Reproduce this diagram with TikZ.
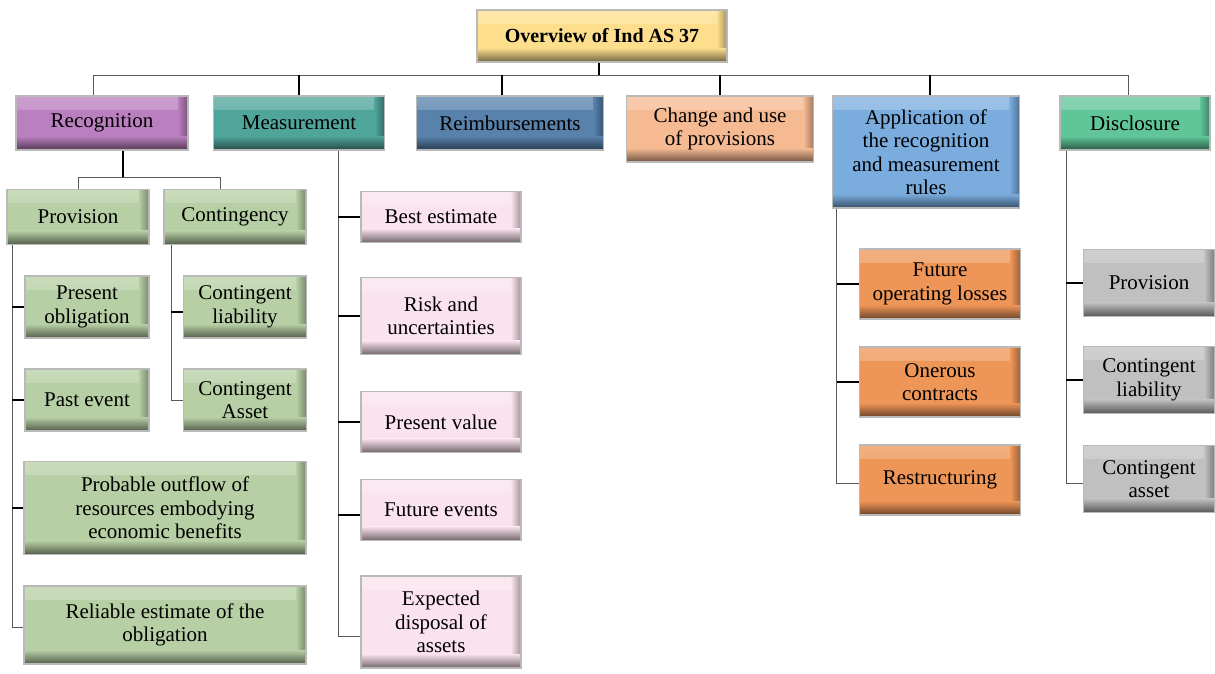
\documentclass[tikz,border=0pt]{standalone}
\usepackage{fontspec}
\setmainfont{Liberation Serif}
\usepackage{tikz}

\definecolor{gold}{RGB}{252,222,140}
\definecolor{plum}{RGB}{186,127,190}
\definecolor{teal}{RGB}{80,165,155}
\definecolor{steel}{RGB}{88,130,172}
\definecolor{peach}{RGB}{246,186,146}
\definecolor{sky}{RGB}{122,172,222}
\definecolor{mint}{RGB}{96,198,153}
\definecolor{sage}{RGB}{182,207,164}
\definecolor{blush}{RGB}{250,226,238}
\definecolor{amber}{RGB}{238,149,88}
\definecolor{ash}{RGB}{192,192,192}

\tikzset{
  box/.style={draw=gray!55, line width=1.2pt, fill=#1, align=center, inner sep=2pt,
    font=\fontsize{21}{23.5}\selectfont,
    path picture={
      \shade[top color=#1!75!white, bottom color=#1]
        (path picture bounding box.north west) rectangle ([yshift=-13pt]path picture bounding box.north east);
      \shade[left color=#1, right color=#1!65!black]
        ([xshift=-10pt]path picture bounding box.south east) rectangle (path picture bounding box.north east);
      \shade[top color=#1, bottom color=#1!45!black]
        ([yshift=14pt]path picture bounding box.south west) rectangle (path picture bounding box.south east);
    }},
  sz/.style 2 args={minimum width=#1pt, minimum height=#2pt},
  link/.style={draw=black!65, line width=0.9pt},
  stub/.style={draw=black, line width=1.6pt},
}

\begin{document}
\begin{tikzpicture}[x=1pt, y=-1pt]
  \useasboundingbox (0,0) rectangle (1215,673);
  % Title
  \node[box=gold, sz={250}{52}, font=\fontsize{20}{22}\selectfont\bfseries] (title) at (602,36) {Overview of Ind AS 37};
  % Main headings
  \node[box=plum, sz={172}{54}] (rec) at (102,123) {Recognition};
  \node[box=teal, sz={171}{54}] (meas) at (299,123) {Measurement};
  \node[box=steel, sz={187}{54}] (reimb) at (510,123) {Reimbursements};
  \node[box=peach, sz={187}{66}] (chg) at (720,129) {Change and use\\of provisions};
  \node[box=sky, sz={187}{112}] (app) at (926,152) {Application of\\the recognition\\and measurement\\rules};
  \node[box=mint, sz={150}{54}] (disc) at (1135,123) {Disclosure};
  % Bus
  \coordinate (bus) at (599,75);
  \draw[stub] (bus |- title.south) -- (bus);
  \draw[link] (bus) -| ([xshift=-9pt]rec.north);
  \draw[link] (bus) -| ([xshift=-7pt]disc.north);
  \draw[stub] (bus -| meas.north) -- (meas.north);
  \draw[stub] (bus -| reimb.north) ++(-8,0) -- ([xshift=-8pt]reimb.north);
  \draw[stub] (bus -| chg.north) -- (chg.north);
  \draw[stub] (bus -| app.north) ++(4,0) -- ([xshift=4pt]app.north);
  % Recognition
  \node[box=sage, sz={142}{55}] (prov) at (78,217) {Provision};
  \node[box=sage, sz={142}{55}] (cont) at (235,217) {Contingency};
  \coordinate (fork) at (123,177);
  \draw[stub] ([xshift=21pt]rec.south) -- (fork);
  \draw[link] (fork) -| (prov.north);
  \draw[link] (fork) -| ([xshift=-15pt]cont.north);
  % Provision
  \node[box=sage, sz={124}{62}] (po) at (87,307) {Present\\obligation};
  \node[box=sage, sz={124}{62}] (pe) at (87,400) {Past event};
  \node[box=sage, sz={282}{93}] (pro) at (165,508) {Probable outflow of\\resources embodying\\economic benefits};
  \node[box=sage, sz={282}{78}] (rel) at (165,625) {Reliable estimate of the\\obligation};
  \coordinate (pt) at ([xshift=6pt]prov.south west);
  \draw[link] (pt) |- ([yshift=-2pt]rel.west);
  \foreach \n in {po,pe,pro}
    \draw[stub] (\n.west) -- (\n.west -| pt);
  % Contingency
  \node[box=sage, sz={123}{62}] (cl) at (245,307) {Contingent\\liability};
  \node[box=sage, sz={123}{62}] (ca) at (245,400) {Contingent\\Asset};
  \coordinate (ct) at ([xshift=8pt]cont.south west);
  \draw[link] (ct) |- (ca.west);
  \draw[stub] ([yshift=-5pt]cl.west) -- ([yshift=-5pt]cl.west -| ct);
  % Measurement
  \node[box=blush, sz={160}{51}] (best) at (441,217) {Best estimate};
  \node[box=blush, sz={160}{77}] (risk) at (441,316) {Risk and\\uncertainties};
  \node[box=blush, sz={160}{61}] (pv) at (441,422) {Present value};
  \node[box=blush, sz={160}{61}] (fe) at (441,510) {Future events};
  \node[box=blush, sz={160}{92}] (exp) at (441,622) {Expected\\disposal of\\assets};
  \coordinate (mt) at ([xshift=39pt]meas.south);
  \draw[link] (mt) |- ([yshift=-14pt]exp.west);
  \foreach \n in {best,risk,pv}
    \draw[stub] (\n.west) -- (\n.west -| mt);
  \draw[stub] ([yshift=-5pt]fe.west) -- ([yshift=-5pt]fe.west -| mt);
  % Application
  \node[box=amber, sz={161}{70}] (fol) at (940,284) {Future\\operating losses};
  \node[box=amber, sz={161}{70}] (oc) at (940,382) {Onerous\\contracts};
  \node[box=amber, sz={161}{70}] (restr) at (940,480) {Restructuring};
  \coordinate (at) at ([xshift=5pt]app.south west);
  \draw[link] (at) |- ([yshift=-3pt]restr.west);
  \foreach \n in {fol,oc}
    \draw[stub] (\n.west) -- (\n.west -| at);
  % Disclosure
  \node[box=ash, sz={131}{67}] (dp) at (1149,283) {Provision};
  \node[box=ash, sz={131}{67}] (dcl) at (1149,380) {Contingent\\liability};
  \node[box=ash, sz={131}{67}] (dca) at (1149,479) {Contingent\\asset};
  \coordinate (dt) at ([xshift=7pt]disc.south west);
  \draw[link] (dt) |- ([yshift=-4pt]dca.west);
  \foreach \n in {dp,dcl}
    \draw[stub] (\n.west) -- (\n.west -| dt);
\end{tikzpicture}
\end{document}
